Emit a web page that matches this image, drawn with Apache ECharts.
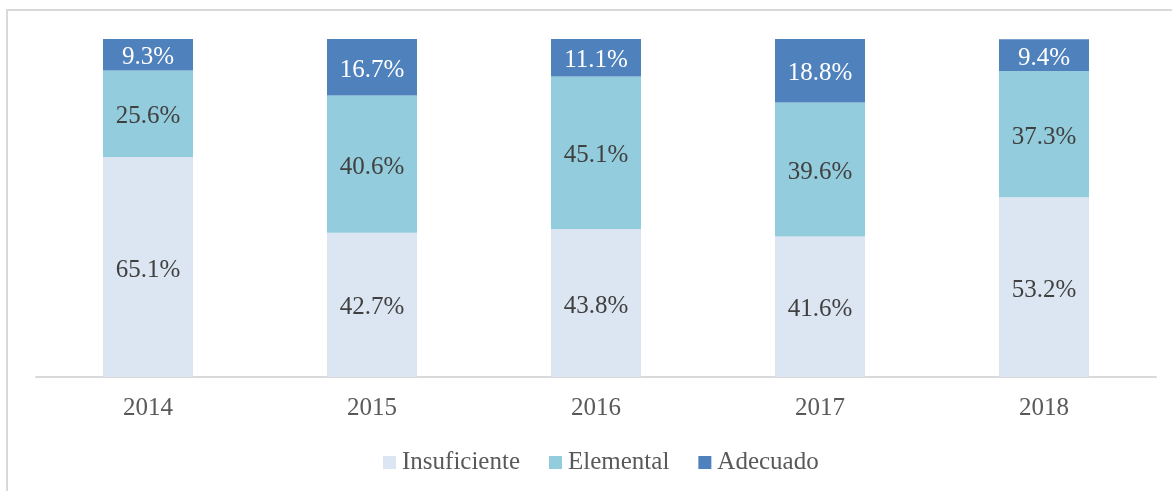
<!DOCTYPE html>
<html>
<head>
<meta charset="utf-8">
<script src="https://cdn.jsdelivr.net/npm/echarts@6/dist/echarts.min.js"></script>
<style>html,body{margin:0;padding:0;background:#fff}#c{width:1172px;height:491px}</style>
</head>
<body>
<div id="c"></div>
<script>
const categories = ['2014', '2015', '2016', '2017', '2018'];
const insuficiente = [65.1, 42.7, 43.8, 41.6, 53.2];
const elemental = [25.6, 40.6, 45.1, 39.6, 37.3];
const adecuado = [9.3, 16.7, 11.1, 18.8, 9.4];

const FONT = 'Liberation Serif';
const chart = echarts.init(document.getElementById('c'), null, {renderer: 'canvas'});
function mk(name, data, color, labelColor) {
  return {
    name, type: 'bar', stack: 'total', data, barWidth: 90,
    itemStyle: {color},
    label: {show: true, position: 'inside', color: labelColor, fontFamily: FONT, fontSize: 25,
      offset: [0, 3],
      formatter: p => p.value.toFixed(1) + '%'}
  };
}
chart.setOption({
  animation: false,
  textStyle: {fontFamily: FONT},
  graphic: [{type: 'rect', shape: {x: 7, y: 10, width: 1300, height: 600},
    style: {fill: 'none', stroke: '#d9d9d9', lineWidth: 2}, silent: true}],
  grid: {left: 36, width: 1120, top: 39, bottom: 114, containLabel: false},
  xAxis: {type: 'category', data: categories,
    axisLine: {lineStyle: {color: '#d9d9d9', width: 2}},
    axisTick: {show: false},
    axisLabel: {color: '#595959', fontFamily: FONT, fontSize: 25, margin: 19}},
  yAxis: {type: 'value', min: 0, max: 100, show: false, splitLine: {show: false}},
  legend: {left: 383, top: 450, padding: 0, itemWidth: 13, itemHeight: 13, itemGap: 29,
    icon: 'rect',
    textStyle: {color: '#595959', fontFamily: FONT, fontSize: 25, padding: [0, 0, 0, 1]},
    data: ['Insuficiente', 'Elemental', 'Adecuado']},
  series: [
    mk('Insuficiente', insuficiente, '#dce6f2', '#404040'),
    mk('Elemental', elemental, '#93cddd', '#404040'),
    mk('Adecuado', adecuado, '#4f81bd', '#ffffff')
  ]
});
</script>
</body>
</html>
